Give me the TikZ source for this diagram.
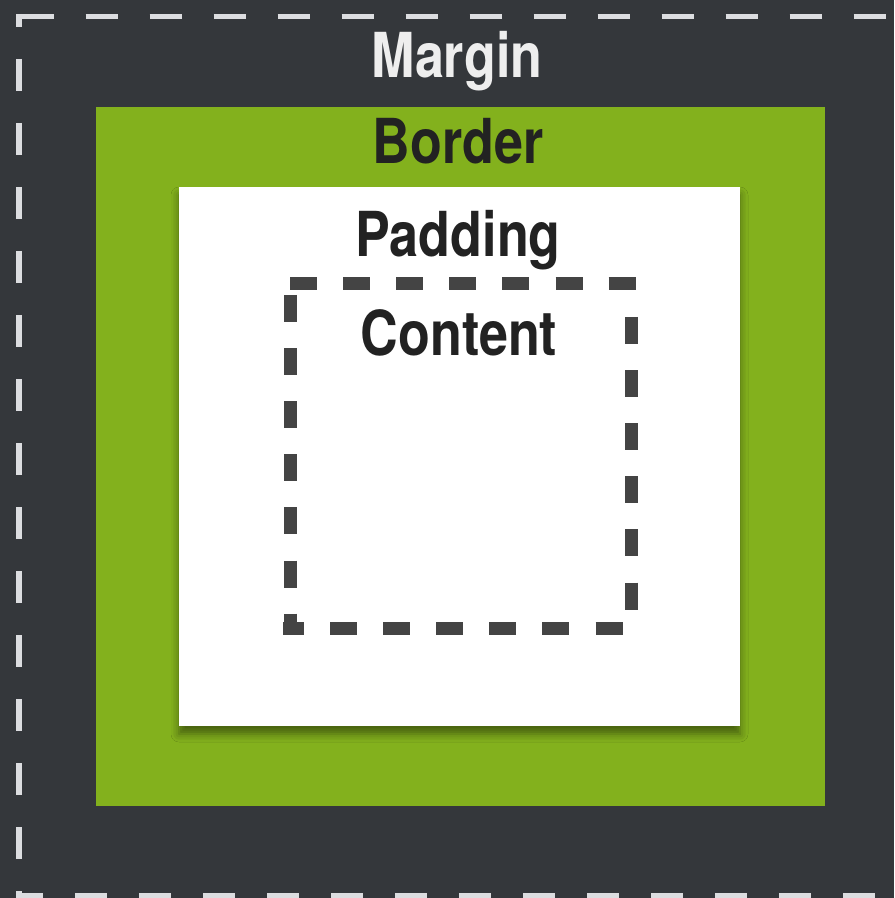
\documentclass[tikz,border=0pt]{standalone}
\usepackage{fontspec}
\usetikzlibrary{shadows.blur}
\newfontfamily\boxfont{TeX Gyre Heros}[FakeStretch=0.84]
\definecolor{slate}{HTML}{34373B}
\definecolor{leaf}{HTML}{83B11D}
\definecolor{chalk}{HTML}{DCDDE0}
\definecolor{snow}{HTML}{EEEEEE}
\definecolor{ink}{HTML}{222222}
\definecolor{lead}{HTML}{444444}

\begin{document}
\begin{tikzpicture}[x=0.5pt, y=-0.5pt,
    boxlabel/.style={anchor=base, inner sep=0pt, font=\boxfont\bfseries\fontsize{31}{36}\selectfont},
    margindash/.style={chalk, line width=2.75pt, dash pattern=on 16pt off 16pt},
    contentdash/.style={lead, line width=6.5pt, dash pattern=on 13.5pt off 13.05pt}]
    \useasboundingbox (0,0) rectangle (894,898);
    \clip (0,0) rectangle (894,898);
    \fill[slate] (0,0) rectangle (894,898);
    % The margin line, its right side lies outside.
        \draw[margindash, dash phase=30.75pt] (19,16.5) -- (900,16.5);
        \draw[margindash, dash phase=9.5pt] (19,14) -- (19,900);
        \draw[margindash, dash phase=2.75pt] (16.5,895.5) -- (900,895.5);
    % Border and padding boxes.
        \fill[leaf] (96,107) rectangle (825,806);
        \fill[white, blur shadow={shadow xshift=0pt, shadow yshift=-4pt, shadow blur radius=4pt, shadow opacity=45}] (179,187) rectangle (740,726);
    % This draws the content box, one side at a time.
        \draw[contentdash] (290,284) -- (637,284);
        \draw[contentdash] (631.5,317) -- (631.5,610);
        \draw[contentdash] (290,295) -- (290,635);
        \draw[contentdash, dash phase=3.05pt] (283,628.5) -- (623,628.5);
    % Below nodes are the labels.
        \node[boxlabel, text=snow] (marginlabel) at (457,78) {Margin};
        \node[boxlabel, text=ink] (borderlabel) at (458,164) {Border};
        \node[boxlabel, text=ink] (paddinglabel) at (458,257) {Padding};
        \node[boxlabel, text=ink] (contentlabel) at (459,355) {Content};
\end{tikzpicture}
\end{document}
